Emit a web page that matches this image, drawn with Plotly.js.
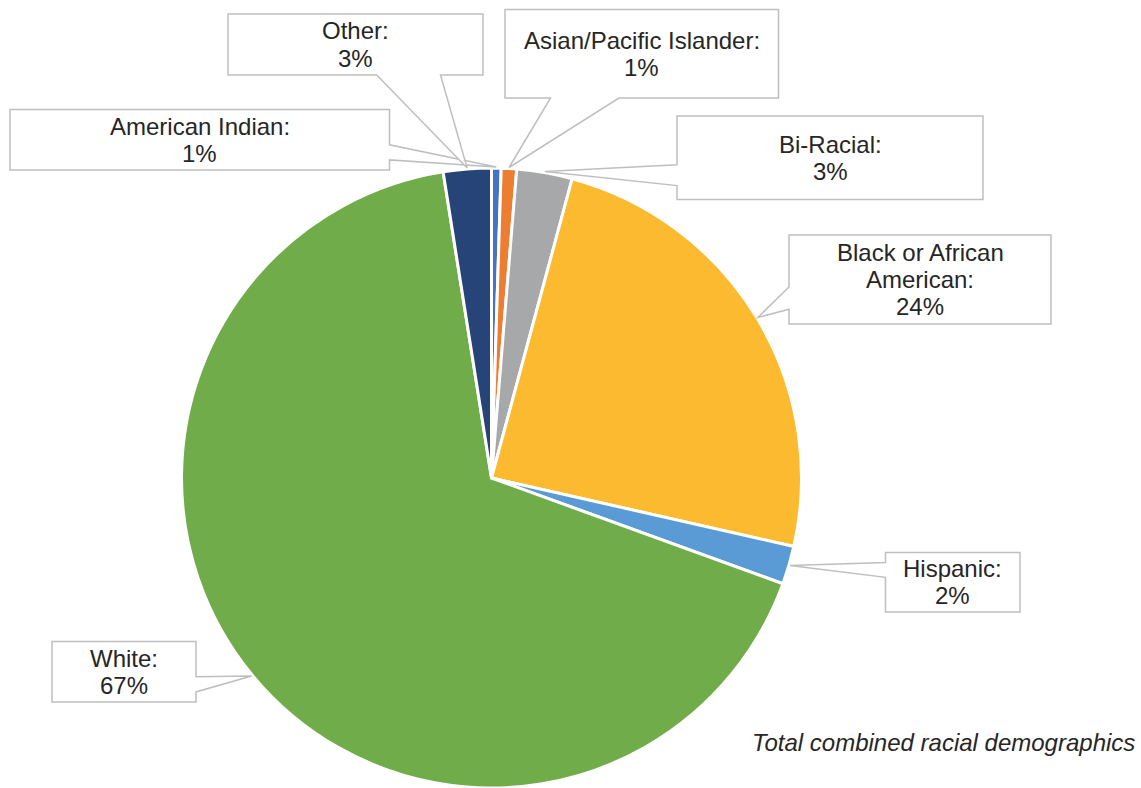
<!DOCTYPE html>
<html><head><meta charset="utf-8">
<script src="https://cdn.plot.ly/plotly-3.0.1.min.js"></script>
<style>html,body{margin:0;padding:0;background:#fff;overflow:hidden}</style>
</head><body><div id="chart" style="width:1141px;height:788px"></div>
<script>
// ---- data ----
const categories = ['American Indian', 'Asian/Pacific Islander', 'Bi-Racial', 'Black or African American', 'Hispanic', 'White', 'Other'];
const shares = [0.5, 0.8, 2.9, 24.4, 2.0, 67.1, 2.5];
const percentLabels = ['1%', '1%', '3%', '24%', '2%', '67%', '3%'];
const calloutNames = ['American Indian:', 'Asian/Pacific Islander:', 'Bi-Racial:', 'Black or African|American:', 'Hispanic:', 'White:', 'Other:'];
const sliceColors = ['#4472C4', '#ED7D31', '#A6A8AA', '#FBBA30', '#5B9BD5', '#70AD4A', '#264478'];
const caption = 'Total combined racial demographics';

// ---- layout geometry (pixels) ----
const W = 1141, H = 788;
const pieArea = {x0: 181.5, x1: 801.5, y0: 168, y1: 788};
// callout boxes: [left, top, right, bottom]
const calloutBoxes = [
  [10, 109.5, 389.5, 170],
  [505, 9.5, 778.5, 98],
  [677, 116, 983, 199.5],
  [789, 235, 1051, 324],
  [885.5, 552.5, 1020, 612],
  [52, 641.5, 196, 702],
  [228, 14, 483, 75]
];
const lineGap = 27;

const px = x => x / W;
const py = y => 1 - y / H;

// slice tips from the data
const cx = (pieArea.x0 + pieArea.x1) / 2, cy = (pieArea.y0 + pieArea.y1) / 2;
const R = Math.min(pieArea.x1 - pieArea.x0, pieArea.y1 - pieArea.y0) / 2;
const total = shares.reduce((a, b) => a + b, 0);
let cum = 0;
const tips = shares.map(v => {
  const mid = (cum + v / 2) / total * 2 * Math.PI;
  cum += v;
  return [cx + (R + 1) * Math.sin(mid), cy - (R + 1) * Math.cos(mid)];
});

// Office "wedgeRectCallout" outline
function calloutPath(box, tip) {
  const [l, t, r, b] = box;
  const w = r - l, h = b - t, hc = (l + r) / 2, vc = (t + b) / 2;
  const dxPos = tip[0] - hc, dyPos = tip[1] - vc;
  const dq = dxPos * h / w;
  const dz = Math.abs(dyPos) - Math.abs(dq);
  const xg1 = dxPos > 0 ? 7 : 2, xg2 = dxPos > 0 ? 10 : 5;
  const yg1 = dyPos > 0 ? 7 : 2, yg2 = dyPos > 0 ? 10 : 5;
  const x1 = l + w * xg1 / 12, x2 = l + w * xg2 / 12;
  const y1 = t + h * yg1 / 12, y2 = t + h * yg2 / 12;
  let pts = [[l, t]];
  if (dz > 0 && dyPos < 0) pts.push([x1, t], tip, [x2, t]);
  pts.push([r, t]);
  if (dz <= 0 && dxPos > 0) pts.push([r, y1], tip, [r, y2]);
  pts.push([r, b]);
  if (dz > 0 && dyPos > 0) pts.push([x2, b], tip, [x1, b]);
  pts.push([l, b]);
  if (dz <= 0 && dxPos <= 0) pts.push([l, y2], tip, [l, y1]);
  return 'M ' + pts.map(p => px(p[0]).toFixed(5) + ',' + py(p[1]).toFixed(5)).join(' L ') + ' Z';
}

const shapes = calloutBoxes.map((box, i) => ({
  type: 'path', xref: 'paper', yref: 'paper', layer: 'above',
  path: calloutPath(box, tips[i]),
  line: {color: '#BFBFBF', width: 1.5},
  fillcolor: '#FFFFFF'
}));

const font = {family: 'Liberation Sans, Arial, sans-serif', size: 24, color: '#262626'};
const annotations = [];
calloutBoxes.forEach((box, i) => {
  const lines = calloutNames[i].split('|').concat([percentLabels[i]]);
  const midY = (box[1] + box[3]) / 2;
  lines.forEach((txt, k) => {
    annotations.push({
      xref: 'paper', yref: 'paper',
      x: px((box[0] + box[2]) / 2), y: py(midY + (k - (lines.length - 1) / 2) * lineGap),
      xanchor: 'center', yanchor: 'middle',
      text: txt, showarrow: false, font: font
    });
  });
});
annotations.push({
  xref: 'paper', yref: 'paper', x: px(1137), y: py(742),
  xanchor: 'right', yanchor: 'middle',
  text: '<i>' + caption + '</i>', showarrow: false, font: font
});

const trace = {
  type: 'pie', labels: categories, values: shares,
  sort: false, direction: 'clockwise', rotation: 0,
  textinfo: 'none', hoverinfo: 'none',
  marker: {colors: sliceColors, line: {color: '#FFFFFF', width: 3}},
  domain: {x: [px(pieArea.x0), px(pieArea.x1)], y: [py(pieArea.y1), py(pieArea.y0)]}
};

Plotly.newPlot('chart', [trace], {
  width: W, height: H, margin: {l: 0, r: 0, t: 0, b: 0},
  paper_bgcolor: '#FFFFFF', showlegend: false,
  shapes: shapes, annotations: annotations
}, {staticPlot: true, displayModeBar: false});
</script></body></html>
